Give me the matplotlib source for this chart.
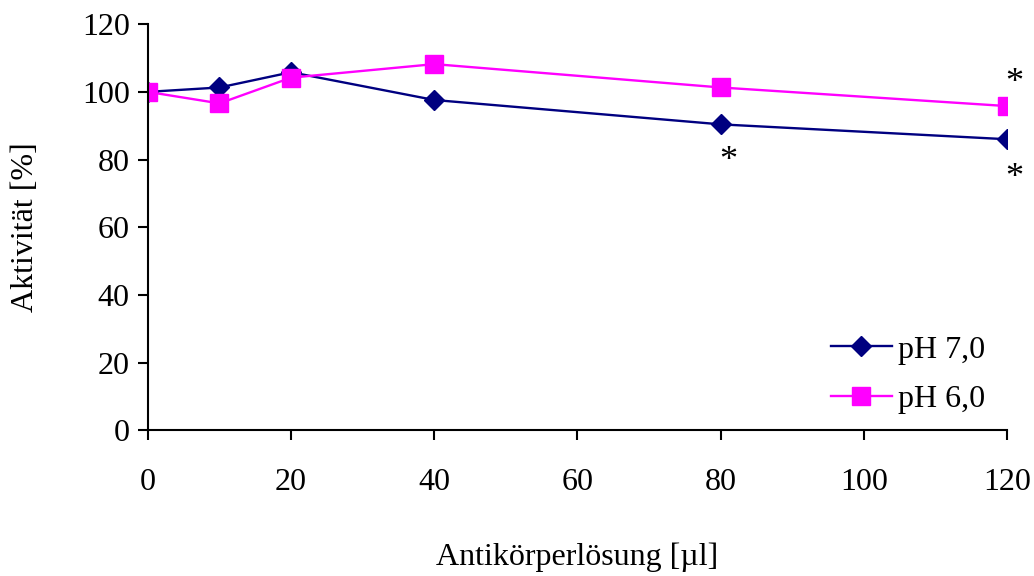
import matplotlib.pyplot as plt

volumes = [0, 10, 20, 40, 80, 120]
ph7 = [100, 101.3, 105.8, 97.6, 90.4, 86.0]
ph6 = [100, 96.6, 104.2, 108.2, 101.3, 95.8]

# significance stars (x, y)
star_x = [80, 120, 120]
star_y = [79.5, 102.5, 74.5]

plt.rcParams["font.family"] = ["Liberation Serif", "DejaVu Serif"]

fig = plt.figure(figsize=(10.34, 5.76), dpi=100)
ax = fig.add_axes([0.143, 0.253, 0.831, 0.705])

ax.plot(volumes, ph7, color="#000080", marker="D", markersize=10, linewidth=1.7,
        label="pH 7,0")
ax.plot(volumes, ph6, color="#ff00ff", marker="s", markersize=13, linewidth=1.7,
        label="pH 6,0")

for sx, sy in zip(star_x, star_y):
    ax.text(sx + 1, sy, "*", fontsize=26, ha="center", va="center")

ax.set_xlim(0, 120)
ax.set_ylim(0, 120)
ax.set_xticks(range(0, 121, 20))
ax.set_yticks(range(0, 121, 20))
ax.spines["top"].set_visible(False)
ax.spines["right"].set_visible(False)
ax.spines["left"].set_linewidth(1.5)
ax.spines["bottom"].set_linewidth(1.5)
ax.tick_params(labelsize=23, width=1.5, length=7, direction="out")
ax.tick_params(axis="x", pad=20)
ax.tick_params(axis="y", pad=6)
for sp in ("left", "bottom"):
    ax.spines[sp].set_clip_on(False)

ax.set_xlabel("Antikörperlösung [µl]", fontsize=23, labelpad=33)
ax.set_ylabel("Aktivität [%]", fontsize=23, labelpad=30)

ax.legend(loc="lower right", bbox_to_anchor=(1.008, -0.03), frameon=False,
          fontsize=23, handlelength=1.9, handletextpad=0.2, labelspacing=0.62)

fig.savefig("out.png", dpi=100)
